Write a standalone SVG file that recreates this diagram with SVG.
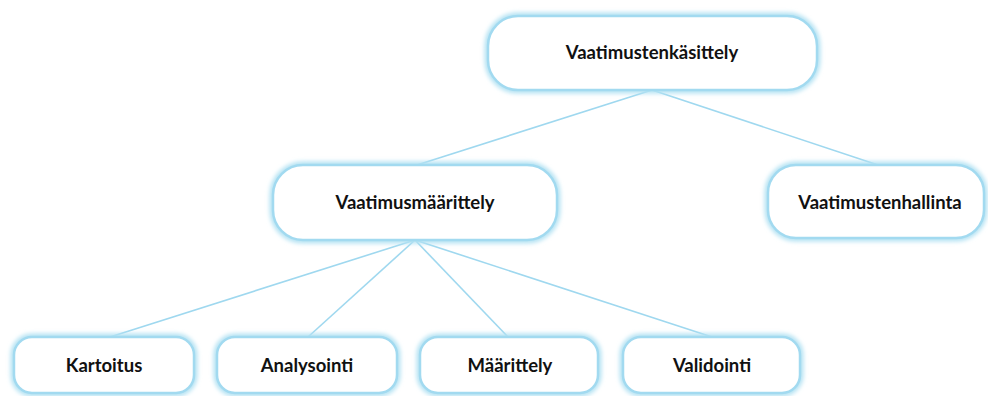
<svg xmlns="http://www.w3.org/2000/svg" width="988" height="396" viewBox="0 0 988 396">
  <defs>
    <filter id="glow" x="-10%" y="-30%" width="120%" height="160%">
      <feGaussianBlur stdDeviation="2.2"/>
    </filter>
    <style>
      .halo { fill: none; stroke: #b3e2f3; stroke-width: 7; filter: url(#glow); }
      .box { fill: #ffffff; stroke: #a2daf0; stroke-width: 2.5; }
      .lbl { font-family: Lato, "Open Sans", "Liberation Sans", sans-serif; font-weight: bold; font-size: 18.5px; fill: #111111; text-anchor: middle; dominant-baseline: central; }
      .edge { stroke: #9fd8ef; stroke-width: 1.6; fill: none; }
    </style>
  </defs>
  <rect width="988" height="396" fill="#ffffff"/>

  <g id="connectors">
    <line class="edge" x1="652" y1="90" x2="417" y2="165"/>
    <line class="edge" x1="652" y1="90" x2="878" y2="165"/>
    <line class="edge" x1="415" y1="240" x2="110" y2="337"/>
    <line class="edge" x1="415" y1="240" x2="308" y2="337"/>
    <line class="edge" x1="415" y1="240" x2="508" y2="337"/>
    <line class="edge" x1="415" y1="240" x2="712" y2="337"/>
  </g>

  <g id="vaatimustenkasittely">
    <rect class="halo" x="488" y="16" width="329" height="74" rx="30"/>
    <rect class="box" x="488" y="16" width="329" height="74" rx="30"/>
    <text class="lbl" x="652" y="52">Vaatimustenkäsittely</text>
  </g>

  <g id="vaatimusmaarittely">
    <rect class="halo" x="273" y="165" width="284" height="75" rx="30"/>
    <rect class="box" x="273" y="165" width="284" height="75" rx="30"/>
    <text class="lbl" x="415" y="202">Vaatimusmäärittely</text>
  </g>

  <g id="vaatimustenhallinta">
    <rect class="halo" x="768" y="165" width="216" height="73" rx="28"/>
    <rect class="box" x="768" y="165" width="216" height="73" rx="28"/>
    <text class="lbl" x="880" y="202">Vaatimustenhallinta</text>
  </g>

  <g id="kartoitus">
    <rect class="halo" x="14" y="337" width="180" height="56" rx="18"/>
    <rect class="box" x="14" y="337" width="180" height="56" rx="18"/>
    <text class="lbl" x="104" y="365">Kartoitus</text>
  </g>

  <g id="analysointi">
    <rect class="halo" x="217" y="337" width="180" height="56" rx="18"/>
    <rect class="box" x="217" y="337" width="180" height="56" rx="18"/>
    <text class="lbl" x="307" y="365">Analysointi</text>
  </g>

  <g id="maarittely">
    <rect class="halo" x="420" y="337" width="178" height="56" rx="18"/>
    <rect class="box" x="420" y="337" width="178" height="56" rx="18"/>
    <text class="lbl" x="510" y="365">Määrittely</text>
  </g>

  <g id="validointi">
    <rect class="halo" x="623" y="337" width="177" height="56" rx="18"/>
    <rect class="box" x="623" y="337" width="177" height="56" rx="18"/>
    <text class="lbl" x="712" y="365">Validointi</text>
  </g>
</svg>
